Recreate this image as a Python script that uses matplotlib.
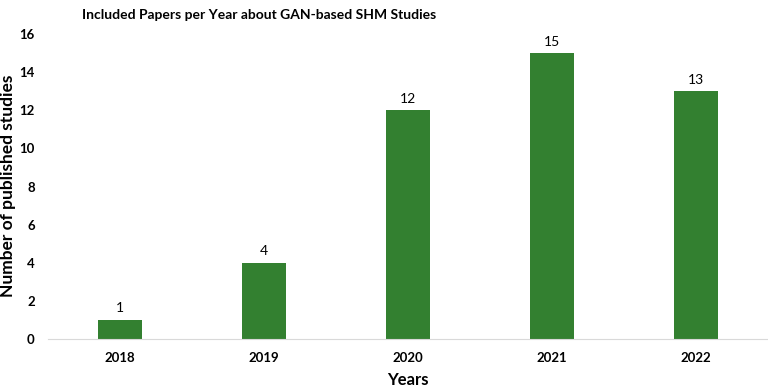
import matplotlib
matplotlib.use("Agg")
import matplotlib.pyplot as plt

years = ['2018', '2019', '2020', '2021', '2022']
counts = [1, 4, 12, 15, 13]

plt.rcParams['font.family'] = ['Lato', 'DejaVu Sans']

fig = plt.figure(figsize=(7.68, 3.87), dpi=100)
ax = fig.add_axes([0.0625, 0.124, 0.9375, 0.788])

bars = ax.bar(years, counts, width=0.31, color='#338030')
for b, v in zip(bars, counts):
    ax.annotate(str(v), (b.get_x() + b.get_width() / 2, v), xytext=(0, 4),
                textcoords='offset points', ha='center', va='bottom', fontsize=10)

ax.set_xlim(-0.5, 4.5)
ax.set_ylim(0, 16)
ax.set_yticks(range(0, 17, 2))
for s in ['top', 'right', 'left']:
    ax.spines[s].set_visible(False)
ax.spines['bottom'].set_color('#d9d9d9')
ax.tick_params(length=0, labelsize=9.5)
for lab in ax.get_xticklabels() + ax.get_yticklabels():
    lab.set_fontweight('bold')
ax.tick_params(axis='x', pad=9)
ax.tick_params(axis='y', pad=9.5)

fig.text(408 / 768, 1 - 380 / 387, 'Years', ha='center', va='center',
         fontsize=12, fontweight='bold')
fig.text(8 / 768, 1 - 186 / 387, 'Number of published studies', ha='center',
         va='center', rotation=90, fontsize=12.5, fontweight='bold')
fig.text(259 / 768, 1 - 15 / 387, 'Included Papers per Year about GAN-based SHM Studies',
         ha='center', va='center', fontsize=10, fontweight='bold')

fig.savefig('out.png', dpi=100)
